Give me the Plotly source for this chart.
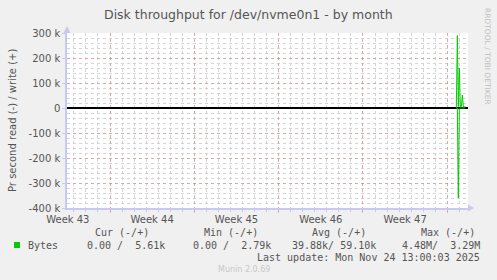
import plotly.graph_objects as go

# ---------------- data ----------------
times = ["2025-11-23 18:00", "2025-11-23 20:00", "2025-11-23 22:00",
         "2025-11-24 00:00", "2025-11-24 02:00", "2025-11-24 04:00",
         "2025-11-24 06:00", "2025-11-24 08:00", "2025-11-24 10:00",
         "2025-11-24 12:00"]
write_bps = [0, 290000, 6000, 160000, 6000, 5000, 52000, 5000, 5000, 5610]
read_bps = [0, 0, -360000, -4000, 0, 0, 0, 0, 0, 0]

x_range = ["2025-10-22 10:20", "2025-11-24 17:15"]
week_starts = ["2025-10-26", "2025-11-02", "2025-11-09", "2025-11-16", "2025-11-23"]
week_label_pos = ["2025-10-22 12:00", "2025-10-29 12:00", "2025-11-05 12:00",
                  "2025-11-12 12:00", "2025-11-19 12:00"]
week_labels = ["Week 43", "Week 44", "Week 45", "Week 46", "Week 47"]

y_ticks = [-400000, -300000, -200000, -100000, 0, 100000, 200000, 300000]
y_ticklabels = ["-400 k", "-300 k", "-200 k", "-100 k", "0", "100 k", "200 k", "300 k"]

title = "Disk throughput for /dev/nvme0n1 - by month"
y_title = "Pr second read (-) / write (+)"
series_name = "Bytes"
stat_headers = ["Cur (-/+)", "Min (-/+)", "Avg (-/+)", "Max (-/+)"]
stat_values = ["0.00 /  5.61k", "0.00 /  2.79k", "39.88k/ 59.10k", "4.48M/  3.29M"]
last_update = "Last update: Mon Nov 24 13:00:03 2025"
version = "Munin 2.0.69"
side_text = "RRDTOOL / TOBI OETIKER"

# ---------------- layout constants ----------------
W, H = 497, 280
PL, PR, PT, PB = 67, 468, 33, 208
GREEN = "#00cc00"
TXT = "#555555"
AXIS = "#c8c8f0"
MGRID = "rgba(235,110,110,0.45)"
GRID = "#d4d4d4"
SANS = "DejaVu Sans"
MONO = "DejaVu Sans Mono"


def px(x):
    return (x - PL) / (PR - PL)


def py(y):
    return (PB - y) / (PB - PT)


fig = go.Figure()
fig.add_trace(go.Scatter(x=times, y=write_bps, mode="lines",
                         line=dict(color=GREEN, width=1), showlegend=False,
                         name=series_name))
fig.add_trace(go.Scatter(x=times, y=read_bps, mode="lines",
                         line=dict(color=GREEN, width=1), showlegend=False,
                         name=series_name))

fig.update_layout(
    width=W, height=H, autosize=False,
    margin=dict(l=PL, r=W - PR, t=PT, b=H - PB, pad=0),
    paper_bgcolor="#f0f0f0", plot_bgcolor="#ffffff",
    font=dict(family=SANS, size=10, color=TXT),
    xaxis=dict(type="date", range=x_range, tickmode="array",
               tickvals=week_starts, showticklabels=False,
               showgrid=True, gridcolor=MGRID, griddash="dot", gridwidth=1,
               ticks="outside", ticklen=3, tickcolor=MGRID,
               minor=dict(dtick=86400000, tick0="2025-10-26", showgrid=True,
                          gridcolor=GRID, griddash="dot", gridwidth=1,
                          ticks="outside", ticklen=2, tickcolor=AXIS),
               showline=True, linecolor=AXIS, linewidth=1.5,
               zeroline=False, fixedrange=True),
    xaxis2=dict(type="date", range=x_range, overlaying="x", side="bottom",
                tickmode="array", tickvals=week_label_pos, ticktext=week_labels,
                showgrid=False, showline=False, zeroline=False, ticks="",
                ticklabelstandoff=4,
                tickfont=dict(family=SANS, size=10, color=TXT)),
    yaxis=dict(range=[-400000, 300000], tickmode="array", tickvals=y_ticks,
               ticktext=y_ticklabels, showgrid=True, gridcolor=MGRID,
               griddash="dot", gridwidth=1,
               minor=dict(dtick=20000, tick0=0, showgrid=True, gridcolor=GRID,
                          griddash="dot", gridwidth=1),
               ticks="outside", ticklen=3, tickcolor=AXIS,
               tickfont=dict(family=SANS, size=10, color=TXT),
               showline=True, linecolor=AXIS, linewidth=1.5,
               zeroline=True, zerolinecolor="#000000", zerolinewidth=1.5,
               fixedrange=True),
    showlegend=False,
)

# dummy trace to activate xaxis2
fig.add_trace(go.Scatter(x=[x_range[0]], y=[None], xaxis="x2", showlegend=False,
                         hoverinfo="skip"))

# axis arrows
fig.add_shape(type="path", xref="paper", yref="paper", xsizemode="pixel",
              ysizemode="pixel", xanchor=0, yanchor=1,
              path="M -3.5 0 L 3.5 0 L 0 7 Z", fillcolor=AXIS, line=dict(width=0))
fig.add_shape(type="path", xref="paper", yref="paper", xsizemode="pixel",
              ysizemode="pixel", xanchor=1, yanchor=0,
              path="M 0 -3.5 L 0 3.5 L 6 0 Z", fillcolor=AXIS, line=dict(width=0))

ann = []
ann.append(dict(text=title, x=px(248), y=py(14), xanchor="center", yanchor="middle",
                font=dict(family=SANS, size=12.5, color=TXT)))
ann.append(dict(text=y_title, x=px(12), y=py(121), xanchor="center", yanchor="middle",
                textangle=-90, font=dict(family=SANS, size=10, color=TXT)))
ann.append(dict(text=side_text, x=px(488), y=py(56), xanchor="center", yanchor="middle",
                textangle=90, font=dict(family=SANS, size=7.5, color="#c0c0c0")))

header_right = [151, 260, 368, 477]
value_right = [167, 273, 378, 482]
for hdr, xr in zip(stat_headers, header_right):
    ann.append(dict(text=hdr, x=px(xr), y=py(232), xanchor="right", yanchor="middle",
                    font=dict(family=MONO, size=10, color=TXT)))
for val, xr in zip(stat_values, value_right):
    ann.append(dict(text=val.replace(" ", "&nbsp;"), x=px(xr), y=py(245),
                    xanchor="right", yanchor="middle",
                    font=dict(family=MONO, size=10, color=TXT)))
ann.append(dict(text=series_name, x=px(26), y=py(245), xanchor="left", yanchor="middle",
                font=dict(family=MONO, size=10, color=TXT)))
ann.append(dict(text=last_update, x=px(482), y=py(257), xanchor="right", yanchor="middle",
                font=dict(family=MONO, size=10, color=TXT)))
ann.append(dict(text=version, x=px(244), y=py(269), xanchor="center", yanchor="middle",
                font=dict(family=SANS, size=8, color="#c8c8c8")))

for a in ann:
    a.update(xref="paper", yref="paper", showarrow=False)
fig.update_layout(annotations=ann)

# legend colour swatch
fig.add_shape(type="rect", xref="paper", yref="paper", x0=px(14), x1=px(20),
              y0=py(248), y1=py(242), fillcolor=GREEN, line=dict(width=0))

fig.write_html("out.html")
